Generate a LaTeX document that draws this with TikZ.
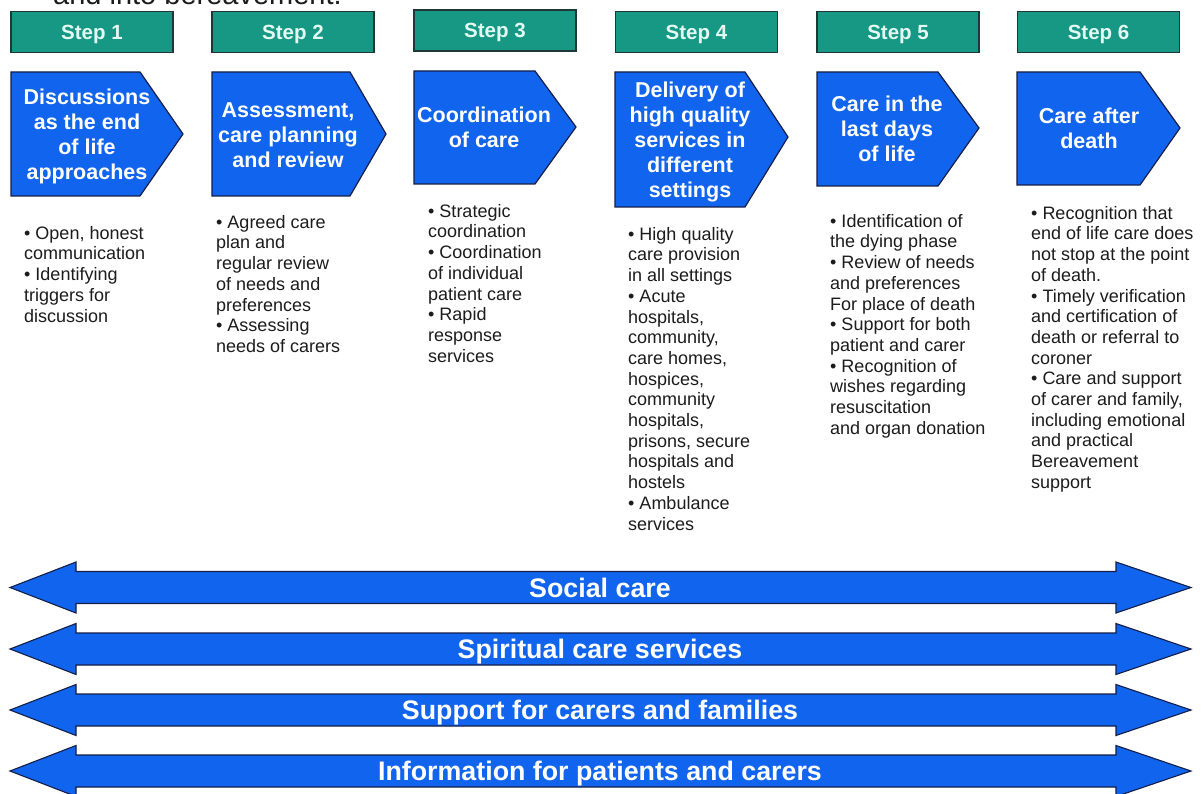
\documentclass[tikz,border=0pt]{standalone}
\usepackage{fontspec}
\setmainfont{Liberation Sans}
\definecolor{stepteal}{RGB}{22,152,132}
\definecolor{stepedge}{RGB}{30,55,55}
\definecolor{steptext}{RGB}{226,250,242}
\definecolor{careblue}{RGB}{17,100,238}
\definecolor{blueedge}{RGB}{20,30,70}
\definecolor{bodytext}{RGB}{28,28,28}
\tikzset{
  stepbox/.style={draw=stepedge, line width=1.4pt, fill=stepteal, text=steptext,
    font=\fontsize{20.5}{24}\selectfont\bfseries, minimum width=162pt, minimum height=41pt,
    text height=15pt, text depth=0pt, inner sep=0pt},
  pentbox/.style={draw=blueedge, line width=1.2pt, fill=careblue, line join=miter},
  penttext/.style={text=white, font=\fontsize{21.5}{25}\selectfont\bfseries, align=center,
    inner sep=0pt},
  bullets/.style={text=bodytext, font=\fontsize{18}{20.7}\selectfont, align=left,
    anchor=north west, inner sep=0pt},
  bandarrow/.style={draw=blueedge, line width=1.1pt, fill=careblue, line join=miter},
  bandtext/.style={text=white, font=\fontsize{26.8}{30}\selectfont\bfseries,
    text height=19.2pt, text depth=0pt, inner sep=0pt}
}
% pentagon: x-left, x-shoulder, x-tip, y-top, y-bottom, y-tip
\newcommand\pentagonshape[6]{%
  \draw[pentbox] (#1,#4) -- (#2,#4) -- (#3,#6) -- (#2,#5) -- (#1,#5) -- cycle;}
% double-headed band centred on y = #1
\newcommand\bandshape[1]{%
  \draw[bandarrow] (10,#1) -- (76,#1-25.5) -- (76,#1-16) -- (1116,#1-16) -- (1116,#1-25.5)
    -- (1191,#1) -- (1116,#1+25.5) -- (1116,#1+16) -- (76,#1+16) -- (76,#1+25.5) -- cycle;}
\begin{document}
\begin{tikzpicture}[x=1pt,y=-1pt]
\useasboundingbox (0,0) rectangle (1204,794);
\clip (0,0) rectangle (1204,794);
\fill[white] (0,0) rectangle (1204,794);

% running text above the steps
\node[anchor=base west, inner sep=0pt, text=bodytext, font=\fontsize{29}{32}\selectfont] (lead) at (53,4.5) {and into bereavement.};

% step headers
\node[stepbox] (s1) at (92,32) {Step 1};
\node[stepbox] (s2) at (293,32) {Step 2};
\node[stepbox] (s3) at (495,30.5) {Step 3};
\node[stepbox] (s4) at (696.5,32) {Step 4};
\node[stepbox] (s5) at (898,32) {Step 5};
\node[stepbox] (s6) at (1098.5,32) {Step 6};

% step pentagons
\pentagonshape{11}{140}{183}{72}{196}{134}
\pentagonshape{212}{350}{386}{72}{196}{134}
\pentagonshape{414}{535}{576}{71}{184}{127}
\pentagonshape{615}{745}{788}{72}{207}{137}
\pentagonshape{817}{938}{979}{72}{186}{128}
\pentagonshape{1017}{1140}{1180}{72}{185}{128}

\node[penttext] (p1) at (87,136.5) {Discussions\\as the end\\of life\\approaches};
\node[penttext] (p2) at (288,135) {Assessment,\\care planning\\and review};
\node[penttext] (p3) at (484,127.5) {Coordination\\of care};
\node[penttext] (p4) at (690,142) {Delivery of\\high quality\\services in\\different\\settings};
\node[penttext] (p5) at (887,129) {Care in the\\last days\\of life};
\node[penttext] (p6) at (1089,128.5) {Care after\\death};

% step details
\node[bullets] (b1) at (24,226) {• Open, honest\\communication\\• Identifying\\triggers for\\discussion};
\node[bullets] (b2) at (216,215) {• Agreed care\\plan and\\regular review\\of needs and\\preferences\\• Assessing\\needs of carers};
\node[bullets] (b3) at (428,204) {• Strategic\\coordination\\• Coordination\\of individual\\patient care\\• Rapid\\response\\services};
\node[bullets] (b4) at (628,227) {• High quality\\care provision\\in all settings\\• Acute\\hospitals,\\community,\\care homes,\\hospices,\\community\\hospitals,\\prisons, secure\\hospitals and\\hostels\\• Ambulance\\services};
\node[bullets] (b5) at (830,214) {• Identification of\\the dying phase\\• Review of needs\\and preferences\\For place of death\\• Support for both\\patient and carer\\• Recognition of\\wishes regarding\\resuscitation\\and organ donation};
\node[bullets] (b6) at (1031,206) {• Recognition that\\end of life care does\\not stop at the point\\of death.\\• Timely verification\\and certification of\\death or referral to\\coroner\\• Care and support\\of carer and family,\\including emotional\\and practical\\Bereavement\\support};

% cross-cutting bands
\bandshape{587.5}
\bandshape{649}
\bandshape{710}
\bandshape{771}
\node[bandtext] (r1) at (600,587.5) {Social care};
\node[bandtext] (r2) at (600,649) {Spiritual care services};
\node[bandtext] (r3) at (600,710) {Support for carers and families};
\node[bandtext] (r4) at (600,771) {Information for patients and carers};
\end{tikzpicture}
\end{document}
